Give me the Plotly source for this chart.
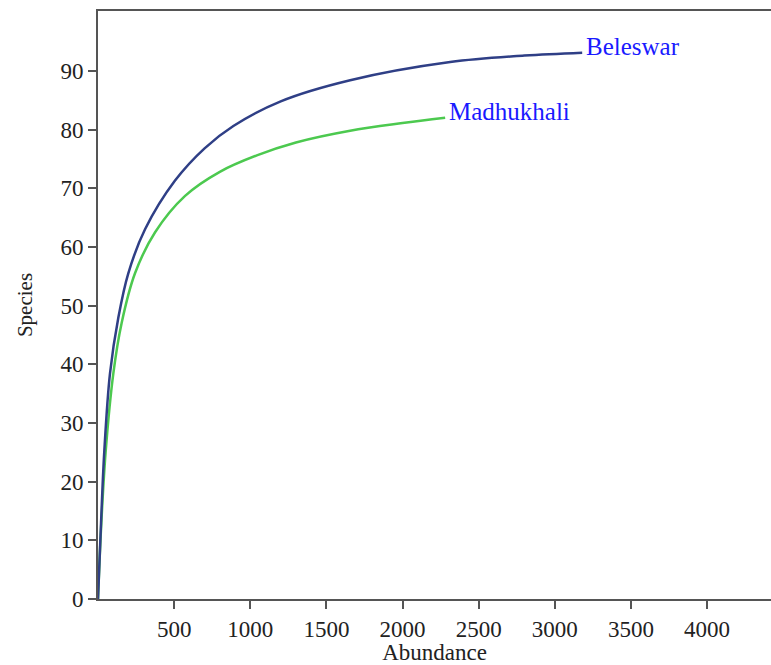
import plotly.graph_objects as go

# Rarefaction curves
beleswar_x = [0, 20, 41, 79, 134, 199, 309, 506, 700, 889, 1200, 1656, 2313, 2800, 3180]
beleswar_y = [0, 13, 25, 38.5, 48, 55.5, 63, 71.3, 76.8, 80.6, 84.8, 88.4, 91.5, 92.6, 93.1]

madhukhali_x = [0, 20, 50, 101, 155, 243, 375, 572, 800, 1043, 1300, 1656, 2000, 2280]
madhukhali_y = [0, 12, 25, 38.5, 47, 55.5, 62.5, 68.7, 72.8, 75.6, 77.8, 79.8, 81.1, 82.0]

x_ticks = [500, 1000, 1500, 2000, 2500, 3000, 3500, 4000]
y_ticks = [0, 10, 20, 30, 40, 50, 60, 70, 80, 90]

FONT = "Liberation Serif, Times New Roman, serif"
AXIS_COLOR = "#555555"

fig = go.Figure()
fig.add_trace(go.Scatter(x=madhukhali_x, y=madhukhali_y, mode="lines",
                         line=dict(color="#4cc94f", width=2.5, shape="spline", smoothing=1),
                         name="Madhukhali", showlegend=False, hoverinfo="skip"))
fig.add_trace(go.Scatter(x=beleswar_x, y=beleswar_y, mode="lines",
                         line=dict(color="#2f3f86", width=2.5, shape="spline", smoothing=1),
                         name="Beleswar", showlegend=False, hoverinfo="skip"))

for name, xs, ys in [("Beleswar", beleswar_x, beleswar_y),
                     ("Madhukhali", madhukhali_x, madhukhali_y)]:
    fig.add_annotation(x=xs[-1], y=ys[-1], text=name, showarrow=False,
                       xanchor="left", yanchor="middle", xshift=2, yshift=6,
                       font=dict(family=FONT, size=25, color="#1a1aff"))

fig.update_layout(
    width=771, height=665,
    margin=dict(l=98, r=0, t=11, b=66),
    paper_bgcolor="white", plot_bgcolor="white",
    font=dict(family=FONT, size=23, color="#222222"),
    xaxis=dict(range=[0, 4420], tickvals=x_ticks, ticks="outside", ticklen=8,
               tickwidth=2, tickcolor=AXIS_COLOR, showline=True, linecolor=AXIS_COLOR,
               linewidth=2, mirror=True, showgrid=False, zeroline=False,
               title=dict(text="Abundance", standoff=2, font=dict(size=23)),
               tickfont=dict(size=23)),
    yaxis=dict(range=[0, 100.2], tickvals=y_ticks, ticks="outside", ticklen=8,
               tickwidth=2, tickcolor=AXIS_COLOR, showline=True, linecolor=AXIS_COLOR,
               linewidth=2, showgrid=False, zeroline=False,
               title=dict(text="Species", standoff=22, font=dict(size=21)),
               tickfont=dict(size=23)),
)

fig.write_html("out.html", config={"displayModeBar": False},
               post_script="document.body.style.margin='0';document.body.style.overflow='hidden';")
